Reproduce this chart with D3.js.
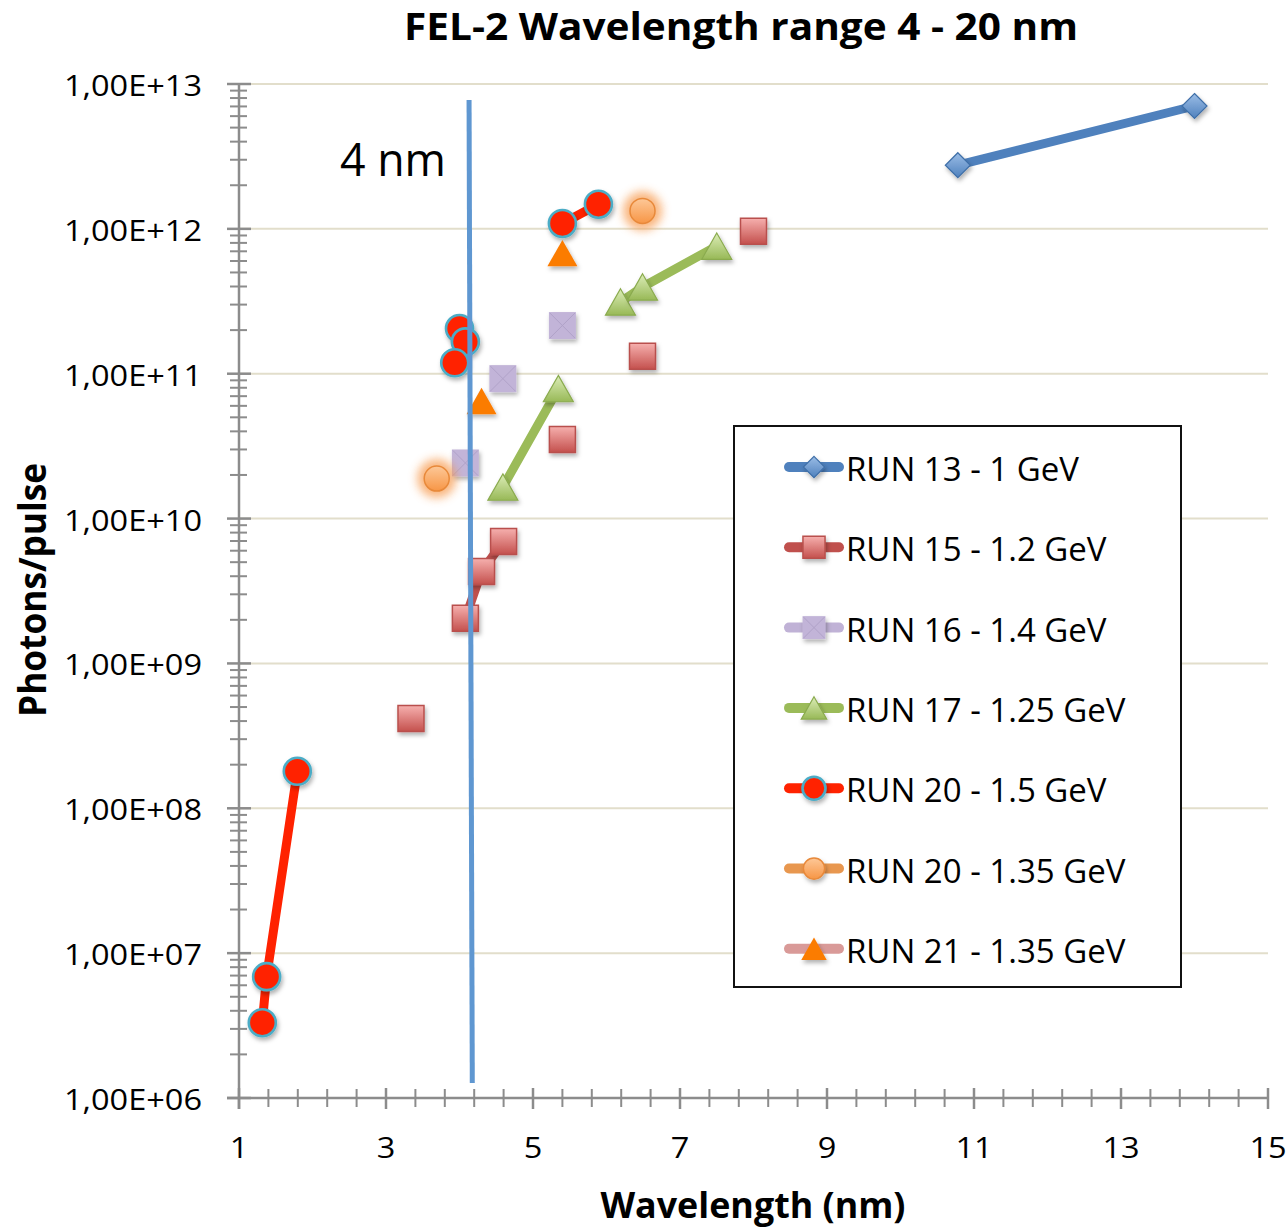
<!DOCTYPE html>
<html>
<head>
<meta charset="utf-8">
<script src="https://cdn.jsdelivr.net/npm/d3@7"></script>
<style>
  body { margin: 0; background: #fff; }
  svg { display: block; }
  text { font-family: "Open Sans", sans-serif; fill: #000; }
</style>
</head>
<body>
<svg id="chart" width="1288" height="1227"></svg>
<script>
// ---- data: [wavelength (nm), photons per pulse]; null marks a break in the line ----
const run13 = [[10.78, 2.75e12], [14.0, 7.05e12]];
const run15 = [[3.34, 4.16e8], null, [4.08, 2.05e9], [4.30, 4.31e9], [4.60, 6.95e9], null,
               [5.40, 3.52e10], null, [6.49, 1.32e11], null, [8.0, 9.64e11]];
const run16 = [[4.08, 2.42e10], null, [4.59, 9.25e10], null, [5.40, 2.15e11]];
const run17 = [[4.59, 1.65e10], [5.345, 7.9e10], null, [6.19, 3.13e11], [6.49, 3.97e11], [7.50, 7.6e11]];
const run20a = [[1.317, 3.31e6], [1.376, 6.88e6], [1.793, 1.8e8], null,
                [4.0, 2.05e11], [4.08, 1.66e11], [3.935, 1.19e11], null,
                [5.40, 1.09e12], [5.89, 1.48e12]];
const run20b = [[3.69, 1.89e10], null, [6.49, 1.33e12]];
const run21 = [[4.30, 6.48e10], null, [5.40, 6.8e11]];

const seriesNames = ["RUN 13 - 1 GeV", "RUN 15 - 1.2 GeV", "RUN 16 - 1.4 GeV", "RUN 17 - 1.25 GeV",
                     "RUN 20 - 1.5 GeV", "RUN 20 - 1.35 GeV", "RUN 21 - 1.35 GeV"];
const seriesData = [run13, run15, run16, run17, run20a, run20b, run21];

// 4 nm reference line endpoints
const refLine = [[4.13, 7.74e12], [4.174, 1.27e6]];
const refLabel = "4 nm";

const xTickValues = [1, 3, 5, 7, 9, 11, 13, 15];
const yTickValues = [1e6, 1e7, 1e8, 1e9, 1e10, 1e11, 1e12, 1e13];
const yTickLabels = ["1,00E+06", "1,00E+07", "1,00E+08", "1,00E+09", "1,00E+10", "1,00E+11", "1,00E+12", "1,00E+13"];

const titleText = "FEL-2 Wavelength range 4 - 20 nm";
const xTitle = "Wavelength (nm)";
const yTitle = "Photons/pulse";

// ---- styles per series ----
const styles = [
  { line: "#4f81bd", marker: "diamond",  size: 25, fill: "url(#gBlue)",   stroke: "#3f6fa8", sw: 1.2, legendLine: "#4f81bd" },
  { line: "#c0504d", marker: "square",   size: 26, fill: "url(#gRed)",    stroke: "#b9504d", sw: 1.5, legendLine: "#c0504d" },
  { line: "#c0b2d6", marker: "xsquare",  size: 27, fill: "#c2b4d8",       stroke: "none",    sw: 0,   legendLine: "#c0b2d6", noLine: true },
  { line: "#9bbb59", marker: "triangle", size: 30, fill: "url(#gGreen)",  stroke: "#8aab4e", sw: 1.2, legendLine: "#9bbb59" },
  { line: "#ff2200", marker: "circle",   size: 27, fill: "#ff2400",       stroke: "#4bacc6", sw: 2.6, legendLine: "#ff2200" },
  { line: "#e8974f", marker: "circle",   size: 25, fill: "url(#gOrange)", stroke: "#e8893a", sw: 1.5, legendLine: "#e8974f", glow: true },
  { line: "#d99a98", marker: "triangle", size: 30, fill: "#fb7b00",       stroke: "none",    sw: 0,   legendLine: "#d99a98" }
];

const svg = d3.select("#chart");

// ---- defs: gradients and filters ----
const defs = svg.append("defs");
function vGrad(id, top, bottom) {
  const g = defs.append("linearGradient").attr("id", id).attr("x1", 0).attr("y1", 0).attr("x2", 0).attr("y2", 1);
  g.append("stop").attr("offset", "0%").attr("stop-color", top);
  g.append("stop").attr("offset", "100%").attr("stop-color", bottom);
}
vGrad("gBlue", "#9bbde6", "#4f81bd");
vGrad("gRed", "#f6b0ae", "#c4504d");
vGrad("gGreen", "#dcedb8", "#98b957");
vGrad("gOrange", "#fdc898", "#f79646");

const shadow = defs.append("filter").attr("id", "shadow")
  .attr("x", "-50%").attr("y", "-50%").attr("width", "200%").attr("height", "200%");
shadow.append("feDropShadow").attr("dx", 1.5).attr("dy", 3).attr("stdDeviation", 2)
  .attr("flood-color", "#000").attr("flood-opacity", 0.3);
const glow = defs.append("filter").attr("id", "glow")
  .attr("x", "-100%").attr("y", "-100%").attr("width", "300%").attr("height", "300%");
glow.append("feGaussianBlur").attr("stdDeviation", 5);

// ---- scales ----
const x = d3.scaleLinear().domain([1, 15]).range([239, 1268]);
const y = d3.scaleLog().domain([1e6, 1e13]).range([1098, 84]);

// stretch a text element horizontally by factor k
function widen(sel, k) {
  sel.each(function () {
    const w = this.getComputedTextLength();
    d3.select(this).attr("textLength", w * k).attr("lengthAdjust", "spacingAndGlyphs");
  });
}

// ---- gridlines ----
svg.append("g").selectAll("line").data(yTickValues.slice(1)).join("line")
  .attr("x1", x(1)).attr("x2", x(15))
  .attr("y1", d => y(d)).attr("y2", d => y(d))
  .attr("stroke", "#e2decb").attr("stroke-width", 2);

// ---- axes ----
const axisColor = "#8c8c8c";
const axes = svg.append("g").attr("stroke", axisColor);
axes.append("line").attr("x1", x(1)).attr("x2", x(1)).attr("y1", y(1e13)).attr("y2", y(1e6) + 11).attr("stroke-width", 2.5);
axes.append("line").attr("x1", x(1) - 12).attr("x2", x(15)).attr("y1", y(1e6)).attr("y2", y(1e6)).attr("stroke-width", 2.5);

// y ticks: majors at decades, minors at 2..9
const yMinor = [];
for (let e = 6; e < 13; e++) for (let k = 2; k <= 9; k++) yMinor.push(k * Math.pow(10, e));
axes.append("g").selectAll("line").data(yTickValues).join("line")
  .attr("x1", x(1) - 12).attr("x2", x(1) + 12)
  .attr("y1", d => y(d)).attr("y2", d => y(d)).attr("stroke-width", 2.5);
axes.append("g").selectAll("line").data(yMinor).join("line")
  .attr("x1", x(1) - 9).attr("x2", x(1) + 8)
  .attr("y1", d => y(d)).attr("y2", d => y(d)).attr("stroke-width", 2);

// x ticks: majors every 2, minors every 0.4
const xMinor = d3.range(0, 36).map(i => 1 + i * 0.4).filter((v, i) => i % 5 !== 0);
axes.append("g").selectAll("line").data(xTickValues).join("line")
  .attr("x1", d => x(d)).attr("x2", d => x(d))
  .attr("y1", y(1e6) - 10).attr("y2", y(1e6) + 11).attr("stroke-width", 2.5);
axes.append("g").selectAll("line").data(xMinor).join("line")
  .attr("x1", d => x(d)).attr("x2", d => x(d))
  .attr("y1", y(1e6) - 9).attr("y2", y(1e6) + 9).attr("stroke-width", 2);

// tick labels
svg.append("g").selectAll("text").data(yTickValues).join("text")
  .attr("x", 202).attr("y", d => y(d) + 12)
  .attr("text-anchor", "end").attr("font-size", 28.5)
  .text((d, i) => yTickLabels[i])
  .attr("textLength", 138).attr("lengthAdjust", "spacingAndGlyphs");
svg.append("g").selectAll("text").data(xTickValues).join("text")
  .attr("x", d => x(d)).attr("y", 1158)
  .attr("text-anchor", "middle").attr("font-size", 29)
  .text(d => d)
  .call(widen, 1.12);

// titles
svg.append("text").attr("x", 741).attr("y", 40).attr("text-anchor", "middle")
  .attr("font-size", 38).attr("font-weight", 700).text(titleText)
  .attr("textLength", 674).attr("lengthAdjust", "spacingAndGlyphs");
svg.append("text").attr("x", 753).attr("y", 1218).attr("text-anchor", "middle")
  .attr("font-size", 35).attr("font-weight", 700).text(xTitle)
  .attr("textLength", 305).attr("lengthAdjust", "spacingAndGlyphs");
svg.append("text").attr("transform", "translate(46,590) rotate(-90)").attr("text-anchor", "middle")
  .attr("font-size", 38).attr("font-weight", 700).text(yTitle)
  .attr("textLength", 254).attr("lengthAdjust", "spacingAndGlyphs");

// ---- marker shapes ----
function markerPath(type, s) {
  const h = s / 2;
  if (type === "diamond") return `M0,${-h}L${h},0L0,${h}L${-h},0Z`;
  if (type === "square" || type === "xsquare") return `M${-h},${-h}H${h}V${h}H${-h}Z`;
  if (type === "triangle") { const th = s * 0.88 / 2; return `M0,${-th}L${h},${th}L${-h},${th}Z`; }
  return d3.arc()({ innerRadius: 0, outerRadius: h, startAngle: 0, endAngle: 2 * Math.PI });
}
function drawMarker(g, st, scale) {
  const s = st.size * scale;
  if (st.glow) {
    g.append("circle").attr("r", s / 2 + 7).attr("fill", "#f79646").attr("opacity", 0.7).attr("filter", "url(#glow)");
  }
  g.append("path").attr("d", markerPath(st.marker, s))
    .attr("fill", st.fill).attr("stroke", st.stroke).attr("stroke-width", st.sw)
    .attr("filter", st.glow ? null : "url(#shadow)");
  if (st.marker === "xsquare") {
    const h = s / 2 - 1;
    g.append("path").attr("d", `M${-h},${-h}L${h},${h}M${h},${-h}L${-h},${h}`)
      .attr("stroke", "#b0a2c8").attr("stroke-width", 1).attr("fill", "none");
  }
}

// ---- series ----
const line = d3.line().defined(d => d !== null).x(d => x(d[0])).y(d => y(d[1]));
seriesData.forEach((data, i) => {
  const st = styles[i];
  const g = svg.append("g");
  if (!st.noLine) {
    g.append("path").attr("d", line(data)).attr("fill", "none")
      .attr("stroke", st.line).attr("stroke-width", 9)
      .attr("stroke-linecap", "round").attr("stroke-linejoin", "round");
  }
  g.selectAll("g.pt").data(data.filter(d => d !== null)).join("g")
    .attr("class", "pt")
    .attr("transform", d => `translate(${x(d[0])},${y(d[1])})`)
    .each(function () { drawMarker(d3.select(this), st, 1); });
});

// ---- 4 nm reference line ----
svg.append("line")
  .attr("x1", x(refLine[0][0])).attr("y1", y(refLine[0][1]))
  .attr("x2", x(refLine[1][0])).attr("y2", y(refLine[1][1]))
  .attr("stroke", "#5f97d1").attr("stroke-width", 5);
svg.append("text").attr("x", 340).attr("y", 176).attr("font-size", 45).text(refLabel)
  .attr("textLength", 106).attr("lengthAdjust", "spacingAndGlyphs");

// ---- legend ----
const legend = svg.append("g");
legend.append("rect").attr("x", 734).attr("y", 426).attr("width", 447).attr("height", 561)
  .attr("fill", "#fff").attr("stroke", "#111").attr("stroke-width", 2);
seriesNames.forEach((name, i) => {
  const st = styles[i];
  const base = 481 + i * 80.3;
  const cy = base - 14;
  const item = legend.append("g");
  item.append("line").attr("x1", 789).attr("x2", 839).attr("y1", cy).attr("y2", cy)
    .attr("stroke", st.legendLine).attr("stroke-width", 10).attr("stroke-linecap", "round");
  const mg = item.append("g").attr("transform", `translate(814,${cy})`);
  drawMarker(mg, Object.assign({}, st, { glow: false }), 0.85);
  item.append("text").attr("x", 846).attr("y", base).attr("font-size", 33).text(name)
    .call(widen, 1.0);
});
</script>
</body>
</html>
